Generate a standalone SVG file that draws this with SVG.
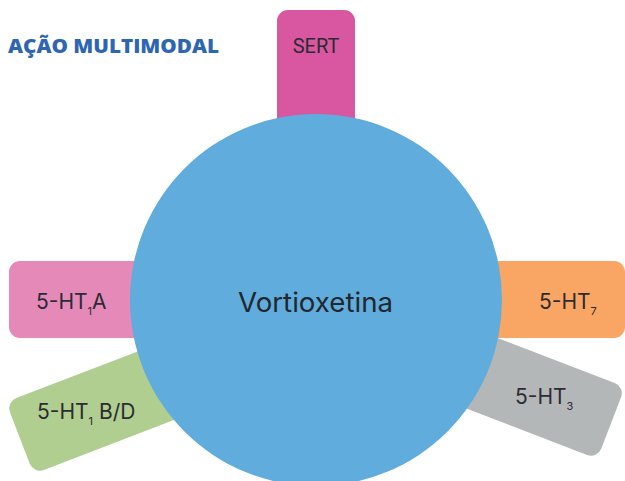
<svg xmlns="http://www.w3.org/2000/svg" width="625" height="481" viewBox="0 0 625 481">
<style>
.lbl{font-family:Inter,"Noto Sans","Liberation Sans",sans-serif;font-size:21px;fill:#2b2b33;font-weight:400}
.sub{font-size:11px}
.title{font-family:"Open Sans","Liberation Sans",sans-serif;font-weight:800;font-size:19px;fill:#2e66b2}
.center{font-family:Inter,"Noto Sans","Liberation Sans",sans-serif;font-size:27px;fill:#24262e}
</style>
<rect width="625" height="481" fill="#ffffff"/>
<text class="title" x="8" y="53" textLength="211" lengthAdjust="spacingAndGlyphs">AÇÃO MULTIMODAL</text>
<g id="connectors"></g>
<g id="sert">
<rect x="277" y="10" width="78" height="200" rx="11" fill="#d957a0"/>
</g>
<g id="ht1a">
<rect x="9" y="261" width="200" height="77" rx="11" fill="#e589b9"/>
</g>
<g id="ht7">
<rect x="425" y="261" width="200" height="77" rx="11" fill="#f9a664"/>
</g>
<g id="ht1bd">
<rect x="0" y="0" width="210" height="77" rx="11" fill="#b0ce8f" transform="translate(6,402) rotate(-21)"/>
</g>
<g id="ht3">
<rect x="-210" y="0" width="210" height="77" rx="11" fill="#b4b7b8" transform="translate(625,387) rotate(21)"/>
</g>
<g id="vortioxetina">
<circle cx="316" cy="300" r="186" fill="#5facdd"/>
<text class="center" x="238" y="312" textLength="155" lengthAdjust="spacingAndGlyphs">Vortioxetina</text>
</g>
<text class="lbl" x="316" y="53" text-anchor="middle" style="font-family:Roboto,sans-serif;font-size:20px">SERT</text>
<text class="lbl" x="36" y="309">5-HT<tspan class="sub" dy="6">1</tspan><tspan dy="-6">A</tspan></text>
<text class="lbl" x="539" y="309">5-HT<tspan class="sub" dy="6">7</tspan></text>
<text class="lbl" x="515" y="404">5-HT<tspan class="sub" dy="6">3</tspan></text>
<text class="lbl" x="37" y="419">5-HT<tspan class="sub" dy="6">1</tspan><tspan dy="-6"> B/D</tspan></text>
</svg>
